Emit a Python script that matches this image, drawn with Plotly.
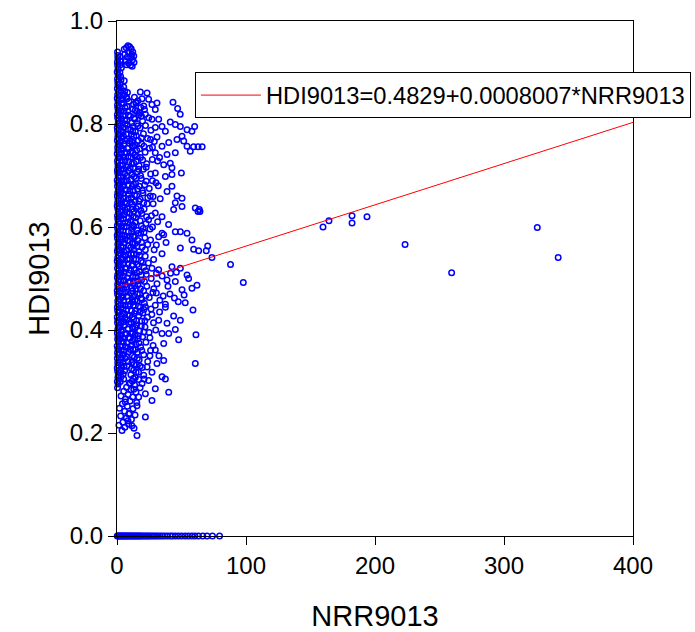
import plotly.graph_objects as go

# ---------------- data ----------------
# Dense core of the cloud, HDI values given x1000
core_a_nrr = [0.4,0.9,0.3,0.7,1.0,0.5,0.2,0.8,0.6,0.3,
              0.9,0.4,0.7,0.2,1.1,0.5,0.8,0.3,0.6,1.0,
              0.4,0.7,0.2,0.9,0.5,0.3,0.8,0.6,1.0,0.4,
              0.2,0.7,0.5,0.9,0.3,0.6,1.1,0.4,0.8,0.2,
              0.5,0.9,0.3,0.7,0.6,1.0,0.4,0.2,0.8,0.5,
              0.3,0.9,0.6,0.4,1.0,0.7,0.2,0.5,0.8,0.3,
              0.6,1.1,0.4,0.7,0.2,0.9,0.5,0.3,0.8,0.6,
              0.4,1.0,0.2,0.7,0.5,0.9,0.3,0.6,0.8,0.4,
              0.2,0.7,1.0,0.5,0.3,0.9,0.6,0.4,0.8,0.2,
              0.5,1.0,0.3,0.7,0.6,0.4,0.9,0.2,0.8,0.5,
              0.3,0.7,0.6,0.4]
core_a_hdi = [288,295,300,308,313,320,326,332,337,345,
              351,356,363,369,377,382,388,394,401,406,
              414,419,425,433,438,444,451,457,465,470,
              476,483,489,496,502,508,515,520,527,534,
              540,546,553,558,566,571,578,584,590,597,
              603,609,616,622,628,635,641,647,654,660,
              667,673,679,686,691,698,705,710,717,724,
              729,736,742,749,755,761,768,774,780,787,
              793,799,806,812,818,825,831,837,844,850,
              857,863,869,876,882,888,895,901,907,914,
              920,927,933,940]
core_b_nrr = [2.6,3.1,2.3,2.9,3.4,2.5,3.0,2.2,3.3,2.7,
              3.5,2.4,2.8,3.2,2.3,3.0,2.6,3.4,2.2,2.9,
              3.1,2.5,3.3,2.7,2.4,3.5,2.8,2.3,3.0,3.2,
              2.6,2.2,3.4,2.9,2.5,3.1,2.7,3.3,2.4,2.8,
              3.5,2.3,3.0,2.6,3.2,2.2,2.9,3.4,2.5,2.7,
              3.1,2.4,3.3,2.8,2.2,3.0,2.6,3.5,2.3,2.9,
              3.2,2.5,2.7,3.4,2.4,3.1,2.8,2.2,3.3,2.6,
              3.0,2.3,3.5,2.9,2.5,3.2,2.7,2.4,3.1,2.8,
              2.2,3.4,2.6,3.0,2.5]
core_b_hdi = [300,309,317,322,331,338,345,354,360,368,
              377,383,390,399,405,413,421,427,436,442,
              450,459,465,472,481,487,495,504,510,517,
              526,532,540,549,555,562,571,577,585,594,
              600,607,616,622,630,639,645,652,661,667,
              675,684,690,697,706,712,720,729,735,742,
              751,757,765,774,780,787,796,802,810,819,
              825,832,841,847,855,864,870,877,886,892,
              900,909,915,922,931]
core_c_nrr = [5.2,4.8,5.9,5.5,4.6,6.2,5.0,5.7,6.4,4.9,
              5.4,6.0,4.7,5.8,5.1,6.3,5.6,4.8,6.1,5.3,
              4.6,5.9,5.0,6.4,5.5,4.9,5.7,6.2,5.2,4.7,
              6.0,5.4,4.8,5.8,6.3,5.1,4.6,5.6,6.1,5.0,
              5.3,6.4,4.9,5.9,5.5,4.7,6.2,5.2,5.7,4.8,
              6.0,5.4,4.6,6.3,5.1,5.8,4.9,5.6,6.1,5.0,
              4.7,5.3,6.4,5.9,4.8,5.5,6.2,5.1,4.6,5.7,
              6.0,5.2,5.6]
core_c_hdi = [305,314,321,329,336,345,352,360,368,377,
              384,392,400,409,416,424,432,441,448,456,
              464,473,480,488,496,505,512,520,528,537,
              544,552,560,569,576,584,592,601,608,616,
              624,633,640,648,656,665,672,680,688,697,
              704,712,720,729,736,744,752,761,768,776,
              784,793,800,808,816,825,832,840,848,857,
              864,872,884]
core_d_nrr = [7.8,8.6,7.3,9.0,8.2,7.6,8.9,7.4,8.4,9.2,
              7.9,8.1,7.2,8.7,9.1,7.7,8.3,7.5,8.8,8.0,
              9.2,7.3,8.5,7.9,8.6,7.4,9.0,8.2,7.6,8.9,
              7.2,8.4,9.1,7.8,8.1,7.5,8.7,9.2,7.3,8.3,
              8.0,7.7,8.8,7.4,9.0,8.5,7.6,8.2,9.1,7.9,
              7.2,8.6,8.0,7.5,8.9,8.3,7.8,9.2,7.4,8.1]
core_d_hdi = [330,339,348,358,366,375,385,393,402,412,
              420,429,439,447,456,466,474,483,493,501,
              510,520,528,537,547,555,564,574,582,591,
              601,609,618,628,636,645,655,663,672,682,
              690,699,709,717,726,736,744,753,763,771,
              780,790,798,807,817,825,834,844,852,861]
core_e_nrr = [10.4,11.6,10.0,11.1,12.0,10.7,9.9,11.4,10.2,11.9,
              10.8,11.2,10.1,12.2,10.5,11.5,9.8,11.0,10.6,11.8,
              10.3,11.3,12.1,10.9,10.0,11.7,10.4,11.1,9.9,12.0,
              10.7,11.4,10.2,11.6,10.8,10.5,11.9,10.1,11.2,10.6,
              11.5,10.3]
core_e_hdi = [362,371,384,393,406,415,428,437,450,459,
              472,481,494,503,516,525,538,547,560,569,
              582,591,604,613,626,635,648,657,670,679,
              692,701,714,723,736,745,758,767,780,789,
              802,815]

# small cluster at the top of the cloud
top_nrr = [6.0,7.2,8.5,9.8,11.0,12.2,13.0,6.5,8.0,9.4,10.6,12.0,7.4,9.0,10.5,11.8,13.2,5.6,8.8,11.5,7.8]
top_hdi = [0.935,0.948,0.952,0.950,0.946,0.940,0.932,0.922,0.930,0.938,0.930,0.925,0.915,0.918,0.914,0.912,0.920,0.945,0.940,0.935,0.849]

# medium-density band, NRR ~ 12-30
mid_nrr = [13.5,16.2,12.8,18.5,14.1,21.3,16.9,13.2,19.8,24.6,15.4,22.1,12.5,
           17.8,26.3,14.2,20.5,13.0,23.7,16.6,28.9,19.1,12.9,25.2,15.3,21.8,13.6,18.2,27.4,14.8,23.0,17.1,31.5,12.7,
           20.4,15.9,26.1,13.4,18.8,22.7,14.5,30.2,17.3,25.0,12.6,20.1,15.2,28.0,18.0,13.8,23.4,16.4,21.0,12.9,19.2,26.7,
           14.6,17.9,22.5,13.1,20.3,15.8,25.6,18.4,12.7,21.6,16.2,14.0,23.8,19.5,13.3,17.0,28.8,15.1,21.9,
           12.9,18.7,24.3,15.6,20.8,13.5,17.4,30.6,22.7,14.4,26.5,19.0,12.8,16.3,23.1,14.9,20.6,27.8,17.7,13.2,25.0,19.4,
           15.5,21.2,12.7,18.1,26.4,14.3,20.0,16.8,23.6,13.0,19.1,28.3,15.2,21.7,12.6,17.5,24.9,14.1,19.8,16.2,
           11.8,22.4,14.6,18.3,12.5,26.0,15.9,20.7,13.4,17.2,11.5,23.8,15.0,19.6,12.9,16.7,10.8,14.2,21.0,11.9,
           9.5,13.6,7.4,17.9,10.8,5.2,14.7,8.6,12.2,3.1,6.5,10.1,15.3,4.2,8.0,1.9,12.4,5.9,9.7,2.8,14.0,7.3,11.2,4.6,9.0,1.5,6.1,
           18.1,23.3,24.5,19.4,14.7,20.7,15.5,22.0]
mid_hdi = [0.852,0.845,0.838,0.832,0.826,0.828,0.818,0.812,0.806,0.812,0.801,0.797,0.795,
           0.792,0.788,0.785,0.781,0.776,0.772,0.768,0.766,0.761,0.757,0.753,0.749,0.745,0.740,0.735,0.731,0.727,0.723,0.719,0.728,0.715,
           0.712,0.707,0.703,0.698,0.694,0.689,0.684,0.686,0.679,0.675,0.671,0.666,0.661,0.659,0.654,0.649,0.645,0.640,0.635,0.630,0.626,0.622,
           0.618,0.612,0.607,0.602,0.597,0.593,0.596,0.588,0.583,0.579,0.574,0.568,0.566,0.561,0.556,0.552,0.556,0.546,0.543,
           0.538,0.534,0.530,0.527,0.522,0.517,0.513,0.510,0.508,0.503,0.500,0.497,0.492,0.488,0.485,0.480,0.476,0.473,0.470,0.466,0.463,0.459,
           0.456,0.452,0.448,0.444,0.441,0.437,0.433,0.428,0.425,0.421,0.417,0.414,0.410,0.406,0.402,0.398,0.395,0.391,0.387,0.383,
           0.378,0.376,0.372,0.367,0.362,0.360,0.357,0.352,0.347,0.342,0.337,0.339,0.332,0.327,0.322,0.318,0.313,0.308,0.305,0.301,
           0.297,0.293,0.289,0.288,0.284,0.281,0.279,0.275,0.270,0.272,0.266,0.262,0.259,0.257,0.252,0.248,0.247,0.242,0.238,0.233,0.235,0.229,0.226,0.221,0.217,0.215,0.211,
           0.862,0.860,0.848,0.849,0.841,0.835,0.825,0.819]

# second medium-density layer close to the core, NRR ~ 10-24
mid2_nrr = [14.8,12.3,17.2,13.9,19.0,16.1,12.1,15.0,18.9,11.9,14.0,17.6,20.9,12.4,15.7,19.9,13.1,16.8,22.6,11.8,
            14.7,18.2,21.5,12.8,16.0,19.7,13.6,23.9,17.0,11.9,14.9,20.7,18.5,12.6,16.3,22.9,14.2,18.9,11.8,16.5,
            21.0,13.5,19.0,12.2,15.4,22.0,17.6,13.0,19.9,14.8,12.2,17.0,22.2,15.4,12.4,18.8,16.1,21.3,13.7,18.2,
            12.1,15.8,22.4,14.0,18.6,12.3,16.6,20.8,13.5,17.8,12.0,15.1,21.6,14.1,18.8,12.2,16.5,20.8,13.6,11.5,
            17.0,14.0,19.2,12.0,15.8,13.2,17.9,11.2,14.8,12.6,16.9,10.3,13.0]
mid2_hdi = [0.842,0.829,0.822,0.809,0.815,0.796,0.786,0.777,0.773,0.764,0.759,0.752,0.757,0.744,0.737,0.730,0.724,0.712,0.716,0.703,
            0.694,0.700,0.682,0.683,0.674,0.671,0.662,0.657,0.650,0.644,0.636,0.647,0.632,0.620,0.625,0.620,0.609,0.602,0.597,0.588,
            0.590,0.580,0.570,0.567,0.562,0.556,0.545,0.548,0.531,0.537,0.527,0.524,0.515,0.511,0.505,0.507,0.495,0.494,0.486,0.480,
            0.476,0.470,0.467,0.458,0.462,0.455,0.446,0.440,0.432,0.435,0.425,0.418,0.418,0.405,0.408,0.395,0.389,0.396,0.383,0.370,
            0.375,0.362,0.360,0.350,0.345,0.333,0.330,0.325,0.318,0.306,0.304,0.296,0.285]

# sparser outer part of the cloud, NRR ~ 25-75
outer_nrr = [43.4,47.0,49.0,27.1,31.0,29.7,32.3,27.1,41.3,45.2,49.1,54.3,60.2,58.1,37.5,34.9,29.7,50.4,46.5,51.7,
             40.1,34.9,54.3,59.4,62.8,66.0,56.8,45.2,38.8,29.7,41.3,36.2,42.6,
             49.9,42.6,37.5,29.7,42.6,38.8,46.5,50.4,45.2,50.4,43.9,34.9,29.7,24.5,60.7,62.8,63.8,64.3,
             34.9,32.3,36.2,45.2,49.1,54.3,58.1,59.4,63.3,70.3,69.2,73.6,49.1,34.9,28.4,
             42.6,49.1,54.3,62.0,58.1,50.4,45.2,38.8,32.3,27.1,
             22.0,29.7,37.5,37.5,52.9,58.9,43.9,49.1,45.2,38.8,40.1,32.3,34.9,47.8,61.2,60.7,
             36.2,29.7,36.2,37.5,34.9,29.7,40.1,27.1,22.0,15.5,23.3,27.1,19.4,22.0,16.8,24.5,20.7,
             15.5,13.2,3.9,8.5,11.6,6.4,9.1,
             30.5,35.8,41.0,44.5,52.0,33.2,47.5,39.5,55.5,35.0,41.5,31.0,46.0,28.5,
             26.0,30.5,38.0,27.5,31.5,40.0,27.5,32.0,25.8,33.5,28.0,26.0,31.0,27.5,33.0,
             25.5,31.0,28.0,32.5,27.0,30.0,25.5,33.0]
outer_hdi = [0.842,0.830,0.819,0.838,0.841,0.828,0.809,0.809,0.804,0.799,0.795,0.789,0.795,0.786,0.786,0.795,0.793,0.776,0.770,0.767,
             0.764,0.757,0.757,0.756,0.756,0.756,0.747,0.744,0.741,0.744,0.724,0.721,0.715,
             0.705,0.702,0.698,0.705,0.679,0.669,0.660,0.656,0.647,0.640,0.634,0.620,0.627,0.614,0.637,0.630,0.634,0.630,
             0.588,0.581,0.585,0.591,0.591,0.588,0.575,0.557,0.554,0.563,0.554,0.541,0.559,0.548,0.537,
             0.523,0.520,0.507,0.487,0.481,0.478,0.494,0.497,0.517,0.520,
             0.445,0.448,0.450,0.444,0.453,0.439,0.427,0.419,0.401,0.413,0.393,0.419,0.393,0.381,0.391,0.335,
             0.374,0.361,0.341,0.305,0.309,0.286,0.279,0.263,0.231,0.253,0.328,0.318,0.296,0.276,0.270,0.302,0.312,
             0.195,0.209,0.205,0.224,0.214,0.260,0.237,
             0.472,0.466,0.470,0.462,0.468,0.458,0.455,0.485,0.500,0.505,0.510,0.490,0.512,0.480,
             0.575,0.565,0.570,0.600,0.610,0.605,0.690,0.680,0.660,0.655,0.645,0.770,0.775,0.755,0.735,
             0.350,0.335,0.370,0.350,0.430,0.400,0.385,0.435]

# isolated high-NRR observations
far_nrr = [88.0, 97.9, 159.7, 164.3, 182.2, 182.2, 193.8, 223.3, 259.4, 325.8, 342.0]
far_hdi = [0.527, 0.492, 0.600, 0.612, 0.622, 0.608, 0.620, 0.566, 0.511, 0.599, 0.541]

# observations with HDI = 0
zero_nrr = [0.2,0.8,1.5,2.1,2.9,3.4,4.2,5.0,5.7,6.5,7.3,8.0,8.9,9.6,10.4,11.3,12.1,13.0,13.8,14.7,
            15.5,16.4,17.2,18.3,19.1,20.2,21.4,22.5,23.7,24.8,26.1,27.5,28.9,30.4,31.8,33.5,35.2,
            37.0,39.1,41.3,43.0,45.2,47.6,50.1,52.8,55.3,58.0,60.4,63.1,66.5,69.8,74.0,79.5]
zero_hdi = [0.0] * len(zero_nrr)

# fitted regression (legend equation)
intercept = 0.4829
slope = 0.0008007
fit_nrr = [0, 400]
fit_label = "HDI9013=0.4829+0.0008007*NRR9013"

# ---------------- assemble ----------------
core_nrr = core_a_nrr + core_b_nrr + core_c_nrr + core_d_nrr + core_e_nrr
core_hdi = [v / 1000 for v in core_a_hdi + core_b_hdi + core_c_hdi + core_d_hdi + core_e_hdi]

nrr = core_nrr + top_nrr + mid_nrr + mid2_nrr + outer_nrr + far_nrr + zero_nrr
hdi = core_hdi + top_hdi + mid_hdi + mid2_hdi + outer_hdi + far_hdi + zero_hdi

fit_hdi = [intercept + slope * v for v in fit_nrr]

FONT = "Arial, 'Liberation Sans', sans-serif"

fig = go.Figure()
fig.add_trace(go.Scatter(
    x=nrr, y=hdi, mode="markers", showlegend=False, cliponaxis=False,
    marker=dict(symbol="circle-open", size=5.5, color="#0000FF",
                line=dict(color="#0000FF", width=1.5)),
    hoverinfo="skip"))
fig.add_trace(go.Scatter(
    x=fit_nrr, y=fit_hdi, mode="lines", name=fit_label,
    line=dict(color="#FF0000", width=1)))

fig.update_layout(
    width=695, height=632,
    margin=dict(l=117, r=62, t=21, b=96, autoexpand=False),
    paper_bgcolor="white", plot_bgcolor="white",
    font=dict(family=FONT, size=24, color="black"),
    showlegend=True,
    legend=dict(x=0.151, y=0.9006, xanchor="left", yanchor="top",
                bgcolor="white", bordercolor="black", borderwidth=1,
                itemwidth=60, font=dict(size=23.7)),
    xaxis=dict(range=[0, 400], dtick=100, tick0=0, showgrid=False, zeroline=False,
               showline=True, linecolor="black", linewidth=1, mirror=True,
               ticks="outside", ticklen=8, tickcolor="black", automargin=True,
               title=dict(text="NRR9013", standoff=36)),
    yaxis=dict(range=[0, 1], dtick=0.2, tick0=0, tickformat=".1f", showgrid=False, zeroline=False,
               showline=True, linecolor="black", linewidth=1, mirror=True,
               ticks="outside", ticklen=8, tickcolor="black", automargin=True,
               title=dict(text="HDI9013", standoff=11)),
)

fig.write_html("out.html")
